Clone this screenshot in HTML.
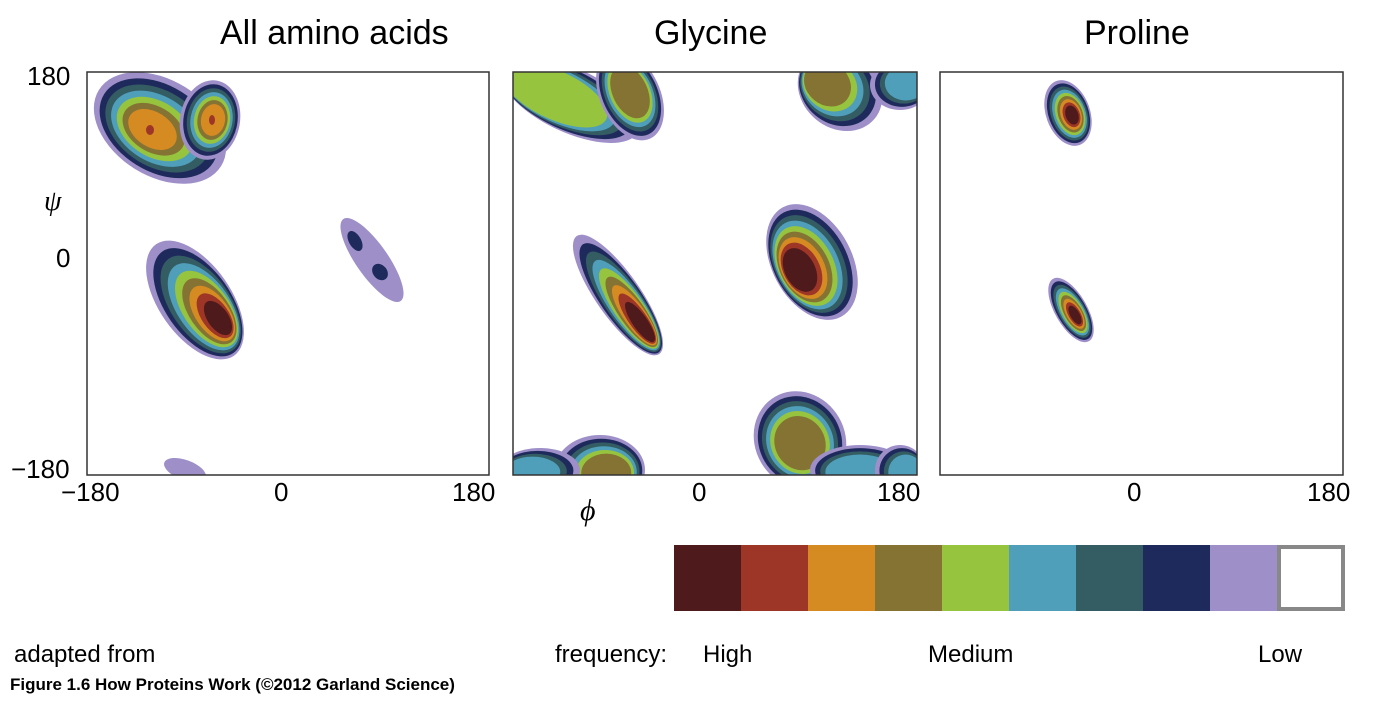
<!DOCTYPE html>
<html><head><meta charset="utf-8"><style>
html,body{margin:0;padding:0;background:#fff}
body{width:1377px;height:702px;overflow:hidden;position:relative;font-family:"Liberation Sans",sans-serif}
.t{position:absolute;white-space:nowrap;color:#000}
.k{font-size:26px}
</style></head><body>
<svg id="s" width="1377" height="702" style="position:absolute;left:0;top:0">
<defs>
<clipPath id="c1"><rect x="87" y="72" width="402" height="403"/></clipPath>
<clipPath id="c2"><rect x="513" y="72" width="404" height="403"/></clipPath>
<clipPath id="c3"><rect x="940" y="72" width="403" height="403"/></clipPath>
</defs>
<g id="g1" clip-path="url(#c1)"></g>
<g id="g2" clip-path="url(#c2)"></g>
<g id="g3" clip-path="url(#c3)"></g>
<rect x="87" y="72" width="402" height="403" fill="none" stroke="#333" stroke-width="1.5"/>
<rect x="513" y="72" width="404" height="403" fill="none" stroke="#333" stroke-width="1.5"/>
<rect x="940" y="72" width="403" height="403" fill="none" stroke="#333" stroke-width="1.5"/>
<g>
<rect x="674" y="545" width="67" height="66" fill="#4f1a1c"/>
<rect x="741" y="545" width="67" height="66" fill="#9e3628"/>
<rect x="808" y="545" width="67" height="66" fill="#d68b22"/>
<rect x="875" y="545" width="67" height="66" fill="#857334"/>
<rect x="942" y="545" width="67" height="66" fill="#96c43f"/>
<rect x="1009" y="545" width="67" height="66" fill="#4f9fba"/>
<rect x="1076" y="545" width="67" height="66" fill="#345c63"/>
<rect x="1143" y="545" width="67" height="66" fill="#1f2a5c"/>
<rect x="1210" y="545" width="67" height="66" fill="#9e8fc9"/>
<rect x="1279" y="547" width="64" height="62" fill="#fff" stroke="#888" stroke-width="4"/>
</g>
</svg>
<div class="t" style="left:220px;top:14px;font-size:34px">All amino acids</div>
<div class="t" style="left:654px;top:14px;font-size:34px">Glycine</div>
<div class="t" style="left:1084px;top:14px;font-size:34px">Proline</div>
<div class="t k" style="left:27px;top:61px">180</div>
<div class="t k" style="left:56px;top:243px">0</div>
<div class="t k" style="left:11px;top:454px">−180</div>
<div class="t" style="left:44px;top:186px;font-size:28px;font-style:italic;font-family:'Liberation Serif',serif">ψ</div>
<div class="t k" style="left:61px;top:477px">−180</div>
<div class="t k" style="left:274px;top:477px">0</div>
<div class="t k" style="left:452px;top:477px">180</div>
<div class="t k" style="left:692px;top:477px">0</div>
<div class="t k" style="left:877px;top:477px">180</div>
<div class="t k" style="left:1127px;top:477px">0</div>
<div class="t k" style="left:1307px;top:477px">180</div>
<div class="t" style="left:580px;top:494px;font-size:30px;font-style:italic;font-family:'Liberation Serif',serif">ϕ</div>
<div class="t" style="left:14px;top:641px;font-size:24px">adapted from</div>
<div class="t" style="left:10px;top:675px;font-size:17px;font-weight:bold">Figure 1.6 How Proteins Work (©2012 Garland Science)</div>
<div class="t" style="left:555px;top:641px;font-size:24px">frequency:</div>
<div class="t" style="left:703px;top:641px;font-size:24px">High</div>
<div class="t" style="left:928px;top:641px;font-size:24px">Medium</div>
<div class="t" style="left:1258px;top:641px;font-size:24px">Low</div>
<script>
var C=["#9e8fc9","#1f2a5c","#345c63","#4f9fba","#96c43f","#857334","#d68b22","#9e3628","#4f1a1c"];
var NS="http://www.w3.org/2000/svg";
function ell(g,x,y,rx,ry,rot,c){var e=document.createElementNS(NS,"ellipse");
  e.setAttribute("cx",x);e.setAttribute("cy",y);e.setAttribute("rx",rx);e.setAttribute("ry",ry);
  e.setAttribute("transform","rotate("+rot+" "+x+" "+y+")");e.setAttribute("fill",c);document.getElementById(g).appendChild(e);}
function blob(g,cx,cy,rx,ry,rot,px,py,n,shrink){
 shrink=shrink||0.92;
 for(var i=0;i<n;i++){var f=1-(i/9)*shrink;
  var x=cx+(px-cx)*(i/8),y=cy+(py-cy)*(i/8);
  ell(g,x,y,rx*f,ry*f,rot,C[i]);}
}
// panel 1
blob("g1",160,128,72,48,32,150,130,7,0.95);
blob("g1",210,120,30,40,10,214,120,7,0.9);
ell("g1",150,130,4,5,0,C[7]);ell("g1",212,120,3,5,0,C[7]);
blob("g1",195,300,68,36,55,218,318,9,0.8);
ell("g1",372,260,50,16,55,C[0]);
ell("g1",355,241,6,11,-30,C[1]);
ell("g1",380,272,7,9,-40,C[1]);
ell("g1",185,470,22,10,20,C[0]);
// panel 2
blob("g2",618,295,72,22,55,640,322,9,0.75);
blob("g2",812,262,62,40,62,800,270,9,0.7);
blob("g2",570,100,75,32,25,540,90,5,0.55);
blob("g2",630,95,30,48,-25,630,90,6,0.75);
blob("g2",840,90,45,38,40,820,80,6,0.8);
blob("g2",900,85,30,25,0,915,80,4);
blob("g2",800,440,45,50,-30,800,445,6,0.8);
blob("g2",860,470,50,25,0,860,475,4);
blob("g2",600,470,45,35,0,610,475,6,0.8);
blob("g2",540,470,40,22,0,520,475,4);
blob("g2",900,470,25,25,0,915,475,4);
// panel 3
blob("g3",1068,113,22,34,-20,1072,115,9,0.8);
blob("g3",1071,310,16,36,-30,1075,315,9,0.8);
</script>
</body></html>
